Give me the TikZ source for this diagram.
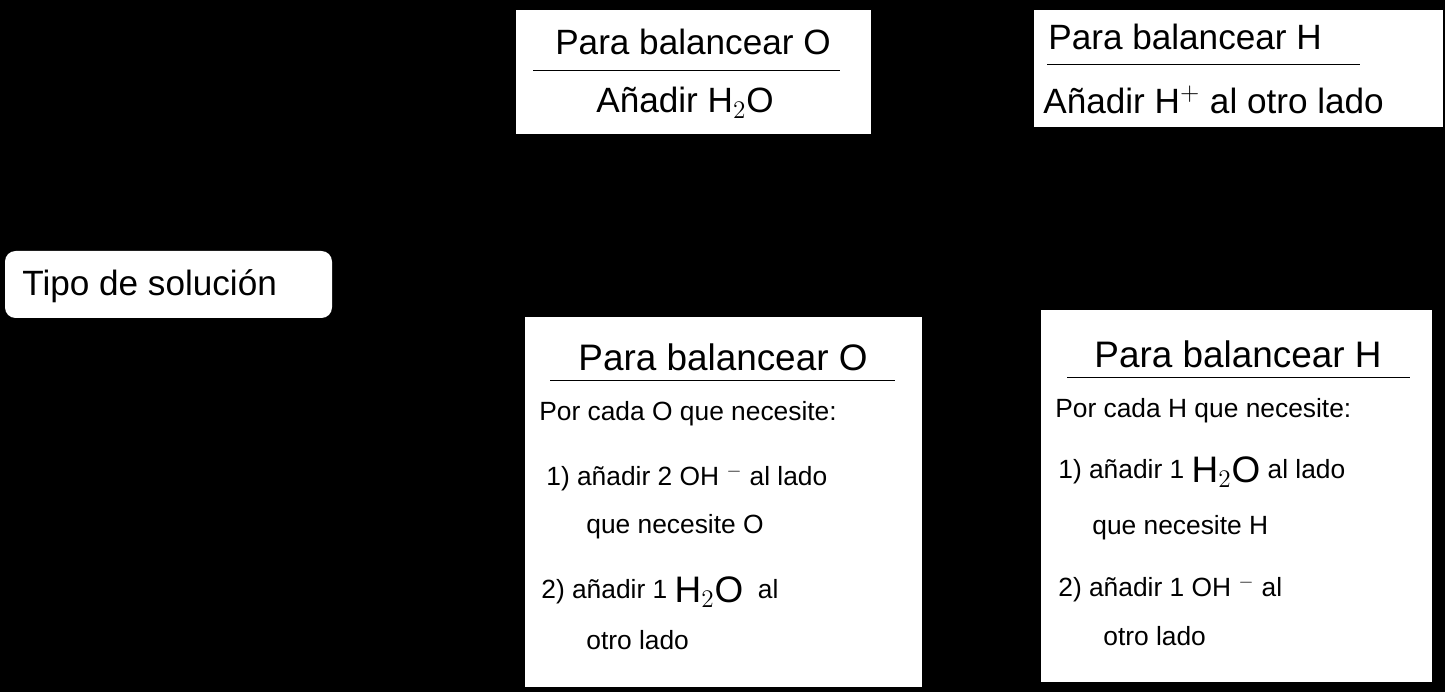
\documentclass[tikz,border=0pt]{standalone}
\usepackage{fontspec}
\setmainfont{Liberation Sans}
\usetikzlibrary{positioning}
\tikzset{
  box/.style={draw=none,fill=white},
  big/.style={font=\fontsize{20}{24}\selectfont,inner sep=0pt},
  small/.style={font=\fontsize{15}{18}\selectfont,inner sep=0pt,anchor=west},
}
\begin{document}
\begin{tikzpicture}[x=0.02cm,y=-0.02cm]
  \fill[black] (0,0) rectangle (1445,692);
  % boxes
  \fill[box,rounded corners=6pt] (5,251) rectangle (332,318);
  \fill[box] (516,10) rectangle (871,134);
  \fill[box] (1034,10) rectangle (1443,127);
  \fill[box] (525,317) rectangle (922,687);
  \fill[box] (1041,310) rectangle (1432,682);
  \node[big,anchor=west] (tipo) at (22,286) {Tipo de solución};
  % top middle
  \node[big] (tO) at (693,42) {Para balancear O};
  \coordinate (tOa) at (533,70); \coordinate (tOb) at (840,70);
  \draw (tOa) -- (tOb);
  \node[big] (aO) at (685,103) {Añadir H$_2$O};
  % top right
  \node[big,anchor=west] (tH) at (1048,37) {Para balancear H};
  \coordinate (tHa) at (1047,64); \coordinate (tHb) at (1360,64);
  \draw (tHa) -- (tHb);
  \node[big,anchor=west] (aH) at (1043,100) {Añadir H$^+$ al otro lado};
  % bottom middle
  \node[big,font=\fontsize{21}{24}\selectfont] (bO) at (723,357) {Para balancear O};
  \coordinate (bOa) at (550,380); \coordinate (bOb) at (895,380);
  \draw (bOa) -- (bOb);
  \node[small] (bO1) at (539,414) {Por cada O que necesite:};
  \node[small] (bO2) at (546,478) {1) añadir 2 OH $^{-}$ al lado};
  \node[small] (bO3) at (586,527) {que necesite O};
  \node[small] (bO4) at (541,592) {2) añadir 1 \raisebox{-2pt}{\fontsize{21}{24}\selectfont H$_2$O} \ al};
  \node[small] (bO5) at (586,640) {otro lado};
  % bottom right
  \node[big,font=\fontsize{21}{24}\selectfont] (bH) at (1238,354) {Para balancear H};
  \coordinate (bHa) at (1067,377); \coordinate (bHb) at (1410,377);
  \draw (bHa) -- (bHb);
  \node[small] (bH1) at (1055,411) {Por cada H que necesite:};
  \node[small] (bH2) at (1058,472) {1) añadir 1 \raisebox{-2pt}{\fontsize{21}{24}\selectfont H$_2$O} al lado};
  \node[small] (bH3) at (1092,528) {que necesite H};
  \node[small] (bH4) at (1058,589) {2) añadir 1 OH $^{-}$ al};
  \node[small] (bH5) at (1103,636) {otro lado};
\end{tikzpicture}
\end{document}
